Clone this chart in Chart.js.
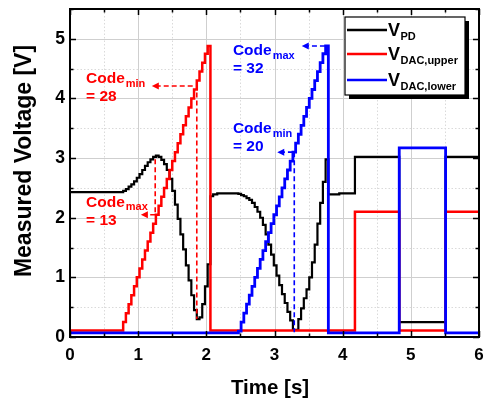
<!DOCTYPE html>
<html><head><meta charset="utf-8">
<script src="https://cdn.jsdelivr.net/npm/chart.js@4"></script>
<style>html,body{margin:0;padding:0;background:#fff}#wrap{width:486px;height:403px;position:relative}</style>
</head><body><div id="wrap"><canvas id="c" width="486" height="403"></canvas></div>
<script>
const FONT = "'Liberation Sans', Arial, Helvetica, sans-serif";
const timeTicks = [0, 1, 2, 3, 4, 5, 6];
const voltTicks = [0, 1, 2, 3, 4, 5];
const seriesMain = ['V', 'V', 'V'];
const seriesSubs = ['PD', 'DAC,upper', 'DAC,lower'];

const redTimes = [0, 0.74, 0.78, 0.82, 0.86, 0.90, 0.94, 0.98, 1.02, 1.06, 1.10, 1.14, 1.18, 1.22, 1.26, 1.30, 1.34, 1.38, 1.42, 1.46, 1.50, 1.54, 1.58, 1.62, 1.66, 1.70, 1.74, 1.78, 1.82, 1.86, 1.90, 1.94, 1.98, 2.02, 2.06, 4.18, 4.83, 5.51, 6];
const redValues = [0.11, 0.11, 0.25, 0.40, 0.55, 0.70, 0.85, 1.00, 1.15, 1.30, 1.45, 1.60, 1.75, 1.90, 2.05, 2.20, 2.35, 2.50, 2.65, 2.80, 2.95, 3.10, 3.25, 3.40, 3.55, 3.70, 3.85, 4.00, 4.15, 4.30, 4.45, 4.60, 4.75, 4.88, 0.11, 2.10, 0.11, 2.10, 2.10];

const blueTimes = [0, 2.47, 2.51, 2.55, 2.59, 2.63, 2.67, 2.71, 2.75, 2.79, 2.83, 2.87, 2.91, 2.95, 2.99, 3.03, 3.07, 3.11, 3.15, 3.19, 3.23, 3.27, 3.31, 3.35, 3.39, 3.43, 3.47, 3.51, 3.55, 3.59, 3.63, 3.67, 3.71, 3.75, 3.79, 4.83, 5.51, 6];
const blueValues = [0.07, 0.10, 0.25, 0.40, 0.55, 0.70, 0.85, 1.00, 1.15, 1.30, 1.45, 1.60, 1.75, 1.90, 2.05, 2.20, 2.35, 2.50, 2.65, 2.80, 2.95, 3.10, 3.25, 3.40, 3.55, 3.70, 3.85, 4.00, 4.15, 4.30, 4.45, 4.60, 4.75, 4.88, 0.07, 3.17, 0.07, 0.07];

const blackTimes = [0, 0.74, 0.78, 0.82, 0.86, 0.90, 0.94, 0.98, 1.02, 1.06, 1.10, 1.14, 1.18, 1.22, 1.26, 1.30, 1.34, 1.38, 1.42, 1.46, 1.50, 1.54, 1.58, 1.62, 1.66, 1.70, 1.74, 1.78, 1.82, 1.86, 1.90, 1.94, 1.98, 2.02,
  2.06, 2.10, 2.16,
  2.47, 2.51, 2.55, 2.59, 2.63, 2.67, 2.71, 2.75, 2.79, 2.83, 2.87, 2.91, 2.95, 2.99, 3.03, 3.07, 3.11, 3.15, 3.19, 3.23, 3.27, 3.31, 3.35, 3.39, 3.43, 3.47, 3.51, 3.55, 3.59, 3.63, 3.67, 3.71, 3.75,
  3.79, 3.95, 4.18, 4.83, 5.51, 6];
const blackValues = [2.43, 2.43, 2.45, 2.48, 2.52, 2.56, 2.61, 2.67, 2.73, 2.80, 2.87, 2.93, 2.98, 3.02, 3.04, 3.02, 2.97, 2.90, 2.80, 2.65, 2.45, 2.22, 1.98, 1.72, 1.47, 1.20, 0.95, 0.70, 0.45, 0.30, 0.33, 0.55, 0.85, 1.22,
  2.36, 2.39, 2.41,
  2.40, 2.38, 2.36, 2.33, 2.30, 2.25, 2.18, 2.10, 2.00, 1.88, 1.72, 1.55, 1.38, 1.20, 1.03, 0.87, 0.72, 0.57, 0.42, 0.28, 0.12, 0.12, 0.30, 0.48, 0.65, 0.80, 1.00, 1.25, 1.55, 1.90, 2.25, 2.60, 2.98,
  2.39, 2.41, 3.02, 0.25, 3.02, 3.02];

const codeNotes = [
  {color: '#ff0000', sub: 'max', value: '= 13', textT: 0.235, textV: 2.26, arrowV: 2.05, arrowFrom: 1.25, arrowTo: 1.04, vT: 1.25, vFrom: 2.98, vTo: 2.05},
  {color: '#ff0000', sub: 'min', value: '= 28', textT: 0.235, textV: 4.33, arrowV: 4.21, arrowFrom: 1.80, arrowTo: 1.20, vT: 1.86, vFrom: 4.10, vTo: 0.30},
  {color: '#0000ff', sub: 'max', value: '= 32', textT: 2.39, textV: 4.80, arrowV: 4.88, arrowFrom: 3.74, arrowTo: 3.40, vT: null},
  {color: '#0000ff', sub: 'min', value: '= 20', textT: 2.39, textV: 3.49, arrowV: 3.10, arrowFrom: 3.27, arrowTo: 3.04, vT: 3.29, vFrom: 3.10, vTo: 0.08}
];

function pts(ts, vs) { return ts.map((t, i) => ({x: t, y: vs[i]})); }

const decor = {
  id: 'decor',
  beforeDatasetsDraw(chart) {
    const {ctx, chartArea: a, scales: {x, y}} = chart;
    ctx.save();
    ctx.lineWidth = 1;
    for (let t = x.min; t <= x.max + 1e-9; t += 0.5) {
      const px = Math.round(x.getPixelForValue(t)) + 0.5;
      const major = Math.abs(t - Math.round(t)) < 1e-6;
      ctx.strokeStyle = major ? '#cfcfcf' : '#dadada';
      ctx.setLineDash(major ? [] : [1.5, 2]);
      ctx.beginPath(); ctx.moveTo(px, a.top); ctx.lineTo(px, a.bottom); ctx.stroke();
    }
    for (let v = y.min; v <= y.max + 1e-9; v += 0.5) {
      const py = Math.round(y.getPixelForValue(v)) + 0.5;
      const major = Math.abs(v - Math.round(v)) < 1e-6;
      ctx.strokeStyle = major ? '#cfcfcf' : '#dadada';
      ctx.setLineDash(major ? [] : [1.5, 2]);
      ctx.beginPath(); ctx.moveTo(a.left, py); ctx.lineTo(a.right, py); ctx.stroke();
    }
    ctx.restore();
  },
  afterDatasetsDraw(chart) {
    const {ctx, chartArea: a, scales: {x, y}} = chart;
    ctx.save();
    codeNotes.forEach(n => {
      ctx.strokeStyle = n.color; ctx.fillStyle = n.color;
      ctx.lineWidth = 1.6; ctx.setLineDash([5, 3]);
      const ay = y.getPixelForValue(n.arrowV);
      const x1 = x.getPixelForValue(n.arrowFrom), x2 = x.getPixelForValue(n.arrowTo);
      ctx.beginPath(); ctx.moveTo(x1, ay); ctx.lineTo(x2 + 5, ay); ctx.stroke();
      if (n.vT !== null) {
        const vx = x.getPixelForValue(n.vT);
        ctx.beginPath(); ctx.moveTo(vx, y.getPixelForValue(n.vFrom)); ctx.lineTo(vx, y.getPixelForValue(n.vTo)); ctx.stroke();
      }
      ctx.setLineDash([]);
      ctx.beginPath(); ctx.moveTo(x2, ay); ctx.lineTo(x2 + 7, ay - 3.5); ctx.lineTo(x2 + 7, ay + 3.5); ctx.closePath(); ctx.fill();
      const tx = x.getPixelForValue(n.textT), ty = y.getPixelForValue(n.textV);
      ctx.textBaseline = 'middle'; ctx.textAlign = 'left';
      ctx.font = 'bold 15.5px ' + FONT;
      ctx.fillText('Code', tx, ty);
      const w = ctx.measureText('Code').width;
      ctx.font = 'bold 11px ' + FONT;
      ctx.fillText(n.sub, tx + w + 1, ty + 5);
      ctx.font = 'bold 15.5px ' + FONT;
      ctx.fillText(n.value, tx, ty + 18);
    });
    ctx.strokeStyle = '#000'; ctx.lineWidth = 2; ctx.setLineDash([]);
    ctx.strokeRect(a.left, a.top, a.right - a.left, a.bottom - a.top);
    ctx.lineWidth = 1.5;
    for (let t = x.min; t <= x.max + 1e-9; t += 0.5) {
      const px = Math.round(x.getPixelForValue(t)) + 0.5;
      const len = Math.abs(t - Math.round(t)) < 1e-6 ? 6 : 3.5;
      ctx.beginPath(); ctx.moveTo(px, a.bottom); ctx.lineTo(px, a.bottom - len);
      ctx.moveTo(px, a.top); ctx.lineTo(px, a.top + len); ctx.stroke();
    }
    for (let v = y.min; v <= y.max + 1e-9; v += 0.5) {
      const py = Math.round(y.getPixelForValue(v)) + 0.5;
      const len = Math.abs(v - Math.round(v)) < 1e-6 ? 6 : 3.5;
      ctx.beginPath(); ctx.moveTo(a.left, py); ctx.lineTo(a.left + len, py);
      ctx.moveTo(a.right, py); ctx.lineTo(a.right - len, py); ctx.stroke();
    }
    const lx = a.right - 134, ly = a.top + 8, lw = 120, lh = 78;
    ctx.fillStyle = '#000'; ctx.fillRect(lx + 4, ly + 4, lw, lh);
    ctx.fillStyle = '#fff'; ctx.fillRect(lx, ly, lw, lh);
    ctx.strokeStyle = '#000'; ctx.lineWidth = 1.2; ctx.strokeRect(lx, ly, lw, lh);
    const rows = [13, 37, 63];
    chart.data.datasets.forEach((ds, i) => {
      const ry = ly + rows[i];
      ctx.strokeStyle = ds.borderColor; ctx.lineWidth = 2.5;
      ctx.beginPath(); ctx.moveTo(lx + 2, ry); ctx.lineTo(lx + 42, ry); ctx.stroke();
      ctx.fillStyle = '#000'; ctx.textBaseline = 'middle'; ctx.textAlign = 'left';
      ctx.font = 'bold 18px ' + FONT;
      ctx.fillText(seriesMain[i], lx + 43, ry + 1);
      const w = ctx.measureText(seriesMain[i]).width;
      ctx.font = 'bold 11px ' + FONT;
      ctx.fillText(seriesSubs[i], lx + 43 + w + 0.5, ry + 7);
    });
    ctx.fillStyle = '#000'; ctx.textAlign = 'center'; ctx.textBaseline = 'middle';
    ctx.font = 'bold 20.5px ' + FONT;
    ctx.fillText('Time [s]', 270, 388);
    ctx.save();
    ctx.font = 'bold 23px ' + FONT;
    ctx.translate(25, 161); ctx.rotate(-Math.PI / 2);
    ctx.fillText('Measured Voltage [V]', 0, 0);
    ctx.restore();
    ctx.restore();
  }
};

Chart.defaults.font.family = FONT;
new Chart(document.getElementById('c'), {
  type: 'line',
  data: {
    datasets: [
      {label: 'V_PD', data: pts(blackTimes, blackValues), borderColor: '#000000', borderWidth: 2.2, order: 2},
      {label: 'V_DAC,upper', data: pts(redTimes, redValues), borderColor: '#ff0000', borderWidth: 2.5, order: 1},
      {label: 'V_DAC,lower', data: pts(blueTimes, blueValues), borderColor: '#0000ff', borderWidth: 2.8, order: 0}
    ]
  },
  options: {
    responsive: false, animation: false, devicePixelRatio: 1,
    layout: {padding: {left: 0, right: 7, top: 9, bottom: 0}},
    elements: {line: {stepped: 'before', tension: 0, fill: false, borderJoinStyle: 'miter', borderCapStyle: 'butt'}, point: {radius: 0, hoverRadius: 0}},
    plugins: {legend: {display: false}, tooltip: {enabled: false}},
    scales: {
      x: {
        type: 'linear', min: 0, max: 6, offset: false,
        afterBuildTicks: s => { s.ticks = timeTicks.map(v => ({value: v})); },
        afterFit: s => { s.height = 66; s.paddingLeft = 0; s.paddingRight = 0; s.paddingTop = 0; s.paddingBottom = 0; },
        ticks: {color: '#000', font: {size: 17, weight: 'bold'}, padding: 8, maxRotation: 0, autoSkip: false},
        grid: {display: false, drawTicks: false}, border: {display: false}
      },
      y: {
        type: 'linear', min: 0, max: 5.5,
        afterBuildTicks: s => { s.ticks = voltTicks.map(v => ({value: v})); },
        afterFit: s => { s.width = 70; s.paddingLeft = 0; s.paddingRight = 0; s.paddingTop = 0; s.paddingBottom = 0; },
        ticks: {color: '#000', font: {size: 17.5, weight: 'bold'}, padding: 5, autoSkip: false},
        grid: {display: false, drawTicks: false}, border: {display: false}
      }
    }
  },
  plugins: [decor]
});
</script>
</body></html>
